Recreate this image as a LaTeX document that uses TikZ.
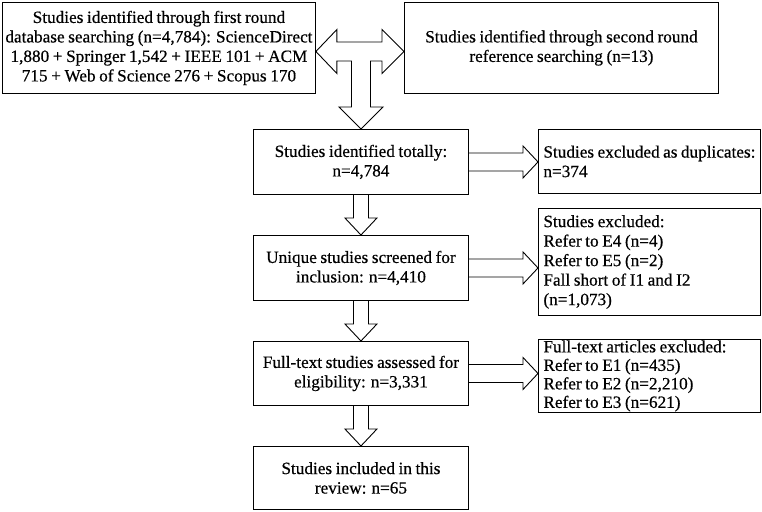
\documentclass[tikz,border=0pt]{standalone}
\usepackage{fontspec}
\setmainfont{Liberation Serif}[FakeBold=0.5]
\usetikzlibrary{calc}
\newcommand\blkright[2]{\draw[blk] let \p1=(#1.east), \p2=(#2.west) in
  (\x1,\y1+9pt) -- (\x2-15pt,\y1+9pt) -- (\x2-15pt,\y1+16pt) -- (\x2,\y1)
  -- (\x2-15pt,\y1-16pt) -- (\x2-15pt,\y1-9pt) -- (\x1,\y1-9pt);}
\newcommand\blkdown[2]{\draw[blk] let \p1=(#1.south), \p2=(#2.north) in
  (\x1-7.5pt,\y1) -- (\x1-7.5pt,\y2+17pt) -- (\x1-16pt,\y2+17pt) -- (\x1,\y2)
  -- (\x1+16pt,\y2+17pt) -- (\x1+7.5pt,\y2+17pt) -- (\x1+7.5pt,\y1);}
\newcommand\tightspaces{\spaceskip=0.21em plus 0.1em minus 0.05em\relax\hyphenpenalty=10000\relax}
\begin{document}
\begin{tikzpicture}[x=1pt,y=-1pt,
  box/.style={draw, line width=0.9pt, inner sep=0pt, anchor=north west,
    font=\fontsize{17.2}{19.5}\selectfont,
    execute at begin node=\tightspaces},
  cbox/.style={box, align=center},
  lbox/.style={box, align=left, inner xsep=5pt, text width=212pt},
  blk/.style={draw, line width=0.9pt, line join=miter}]
\useasboundingbox (0,0) rectangle (762,511);
\fill[white] (0,0) rectangle (762,511);

\node[cbox, minimum width=313pt, minimum height=91pt] (b1) at (2,2)
  {Studies identified through first round\\database searching (n=4,784): ScienceDirect\\1,880 + Springer 1,542 + IEEE 101 + ACM\\715 + Web of Science 276 + Scopus 170};
\node[cbox, minimum width=314pt, minimum height=91pt] (b2) at (404,2)
  {Studies identified through second round\\reference searching (n=13)};
\node[cbox, minimum width=215pt, minimum height=65pt] (b3) at (253,129)
  {Studies identified totally:\\n=4,784};
\node[cbox, minimum width=215pt, minimum height=65pt] (b4) at (253,235)
  {Unique studies screened for\\inclusion: n=4,410};
\node[cbox, minimum width=215pt, minimum height=64pt] (b5) at (253,341)
  {Full-text studies assessed for\\eligibility: n=3,331};
\node[cbox, minimum width=215pt, minimum height=63pt] (b6) at (253,446)
  {Studies included in this\\review: n=65};
\node[lbox, minimum width=222pt, minimum height=64pt] (b7) at (538,129)
  {Studies excluded as duplicates:\\n=374};
\node[lbox, minimum width=222pt, minimum height=107pt] (b8) at (538,208)
  {Studies excluded:\\Refer to E4 (n=4)\\Refer to E5 (n=2)\\Fall short of I1 and I2\\(n=1,073)};
\node[lbox, minimum width=222pt, minimum height=73pt,
  font=\fontsize{17.2}{18.5}\selectfont] (b9) at (538,339)
  {Full-text articles excluded:\\Refer to E1 (n=435)\\Refer to E2 (n=2,210)\\Refer to E3 (n=621)};

% T-shaped block arrow
\draw[blk] let \p1=(b1.east), \p2=(b2.west), \p3=(b3.north), \p4=(0,51.5) in
  (\x1,\y4) -- (\x1+21pt,\y4+22pt) -- (\x1+21pt,\y4+9.5pt) -- (\x2-22pt,\y4+9.5pt)
  -- (\x2-22pt,\y4+22pt) -- (\x2,\y4) -- (\x2-22pt,\y4-22pt) -- (\x2-22pt,\y4-9.5pt)
  -- (\x3+9.5pt,\y4-9.5pt) -- (\x3+9.5pt,\y3+22pt) -- (\x3+22pt,\y3+22pt) -- (\x3,\y3)
  -- (\x3-22pt,\y3+22pt) -- (\x3-9.5pt,\y3+22pt) -- (\x3-9.5pt,\y4-9.5pt)
  -- (\x1+21pt,\y4-9.5pt) -- (\x1+21pt,\y4-22pt) -- cycle;

\blkdown{b3}{b4}
\blkdown{b4}{b5}
\blkdown{b5}{b6}
\blkright{b3}{b7}
\blkright{b4}{b8}
\blkright{b5}{b9}
\end{tikzpicture}
\end{document}
